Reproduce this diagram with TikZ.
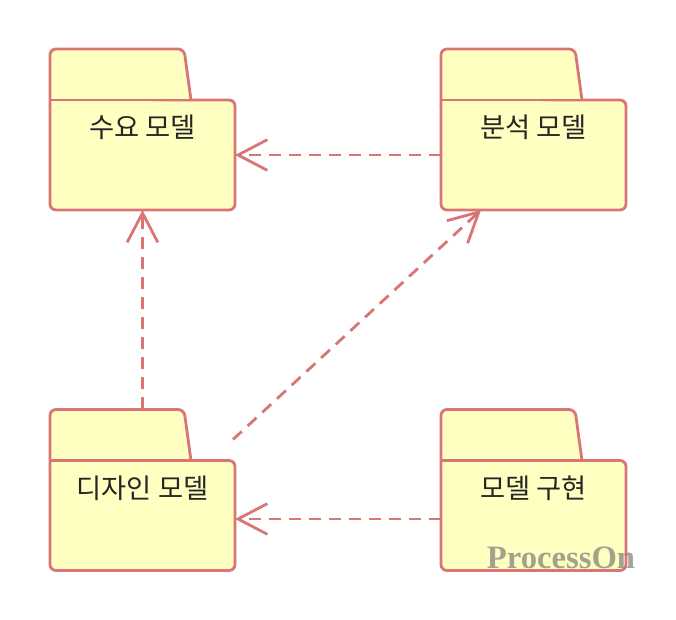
\documentclass[tikz,border=0pt]{standalone}
\usepackage{fontspec}
\newfontfamily\kr{Noto Sans CJK KR}
\newfontfamily\wm{Liberation Serif}
\usetikzlibrary{arrows.meta}
\definecolor{pkgline}{RGB}{217,117,117}
\definecolor{pkgfill}{RGB}{255,255,194}
\definecolor{pkgtext}{RGB}{38,38,38}
\definecolor{wmgray}{RGB}{140,140,128}

\begin{document}
\begin{tikzpicture}[x=0.75pt,y=-0.75pt]
    \tikzset{pkg/.style = {shape=rectangle,rounded corners=4.5pt,line width=2.1pt,draw=pkgline,fill=pkgfill,minimum width=138.75pt,minimum height=82.5pt,inner sep=0pt,outer sep=0pt},
             pkgtab/.style = {rounded corners=4.5pt,line width=2.1pt,draw=pkgline,fill=pkgfill},
             pkgname/.style = {font=\kr\fontsize{20.5}{22}\selectfont,text=pkgtext,inner sep=0pt},
             dep/.style = {line width=2.1pt,draw=pkgline,dash pattern=on 9pt off 6pt,-{Straight Barb[length=22pt,width=23pt]}}}
    \useasboundingbox (0,0) rectangle (676,620);
    \def\xl{142.5}
    \def\xr{533.5}
    \def\yt{155}
    \def\yb{515.5}
     \node[pkg] (req) at (\xl,\yt) {};
     \node[pkg] (ana) at (\xr,\yt) {};
     \node[pkg] (des) at (\xl,\yb) {};
     \node[pkg] (impl) at (\xr,\yb) {};

     % folder tabs
     \foreach \p in {req,ana,des,impl}{
       \draw[pkgtab] ([yshift=-4.5pt]\p.north west) -- ++(0,-57) -- ++(134,0) -- ++(7,51);
       \draw[line width=2.1pt,pkgline] (\p.north west) -- ([xshift=-4.5pt]\p.north east);
     }

     \node[pkgname] (reqName) at ([yshift=-20.5pt]req.north) {수요 모델};
     \node[pkgname] (anaName) at ([yshift=-20.5pt]ana.north) {분석 모델};
     \node[pkgname] (desName) at ([yshift=-20.5pt]des.north) {디자인 모델};
     \node[pkgname] (implName) at ([yshift=-20.5pt]impl.north) {모델 구현};

     \coordinate (desTop) at ([yshift=38.25pt]des.north);
     \coordinate (desCorner) at ([xshift=-1.5pt,yshift=15.75pt]des.north east);
     \coordinate (anaFoot) at ([xshift=30pt]ana.south west);

     \draw[dep] (ana.west) -- (req.east);
     \draw[dep] (desTop) -- (req.south);
     \draw[dep] (desCorner) -- (anaFoot);
     \draw[dep] ([yshift=-2.6pt]impl.west) -- ([yshift=-2.6pt]des.east);

     \node[font=\wm\bfseries\fontsize{24.5}{26}\selectfont,text=wmgray,opacity=0.8,inner sep=0pt] (mark) at (561,558) {ProcessOn};
\end{tikzpicture}
\end{document}
